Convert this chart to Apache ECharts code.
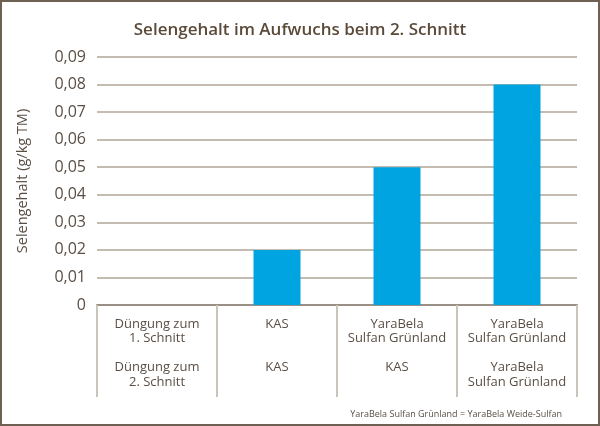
<!DOCTYPE html>
<html>
<head>
<meta charset="utf-8">
<script src="https://cdn.jsdelivr.net/npm/echarts@6/dist/echarts.min.js"></script>
<style>
html,body{margin:0;padding:0;background:#fff;}
#c{width:600px;height:426px;}
</style>
</head>
<body>
<div id="c"></div>
<script>
var titleText = 'Selengehalt im Aufwuchs beim 2. Schnitt';
var yAxisName = 'Selengehalt (g/kg TM)';
var row1 = ['Düngung zum\n1. Schnitt', 'KAS', 'YaraBela\nSulfan Grünland', 'YaraBela\nSulfan Grünland'];
var row2 = ['Düngung zum\n2. Schnitt', 'KAS', 'KAS', 'YaraBela\nSulfan Grünland'];
var values = [0, 0.02, 0.05, 0.08];
var footnote = 'YaraBela Sulfan Grünland = YaraBela Weide-Sulfan';

var categories = row1.map(function (r, i) {
  var lines1 = r.split('\n').length;
  var pad = lines1 === 1 ? '\n\n\n' : '\n\n';
  return r + pad + row2[i];
});

var font = '"Open Sans", sans-serif';
var textColor = '#5a4f45';

var chart = echarts.init(document.getElementById('c'), null, {renderer: 'canvas'});
chart.setOption({
  backgroundColor: '#ffffff',
  animation: false,
  title: {
    text: titleText,
    left: 'center',
    top: 17,
    textStyle: {fontFamily: font, fontSize: 17, fontWeight: 600, color: '#5b4a39'}
  },
  grid: {left: 97, right: 23, top: 57, bottom: 121, containLabel: false},
  xAxis: {
    type: 'category',
    data: categories,
    boundaryGap: true,
    axisLine: {show: true, lineStyle: {color: '#9a8f84', width: 2}},
    axisTick: {show: true, interval: 0, length: 92, inside: false, lineStyle: {color: '#cbc4ba', width: 2}},
    axisLabel: {
      interval: 0,
      margin: 12,
      verticalAlign: 'top',
      align: 'center',
      lineHeight: 14.5,
      fontFamily: font,
      fontSize: 13,
      color: textColor
    },
    splitLine: {show: false}
  },
  yAxis: {
    type: 'value',
    min: 0,
    max: 0.09,
    interval: 0.01,
    name: yAxisName,
    nameLocation: 'middle',
    nameGap: 67,
    nameTextStyle: {fontFamily: font, fontSize: 14.5, color: textColor},
    axisLine: {show: false},
    axisTick: {show: false},
    axisLabel: {
      margin: 11,
      fontFamily: font,
      fontSize: 16,
      color: textColor,
      formatter: function (v) {
        if (v === 0) return '0';
        return v.toFixed(2).replace('.', ',');
      }
    },
    splitLine: {show: true, lineStyle: {color: '#c4bcb1', width: 2}}
  },
  series: [{
    type: 'bar',
    data: values,
    barWidth: 47,
    itemStyle: {color: '#00a4e0'},
    silent: true
  }],
  graphic: [
    {
      type: 'text',
      right: 38,
      top: 410,
      style: {text: footnote, fontFamily: font, fontSize: 9, fill: textColor}
    },
    {
      type: 'rect',
      shape: {x: 1, y: 1, width: 598, height: 424},
      style: {fill: 'none', stroke: '#6e6154', lineWidth: 2},
      silent: true
    }
  ]
});
</script>
</body>
</html>
